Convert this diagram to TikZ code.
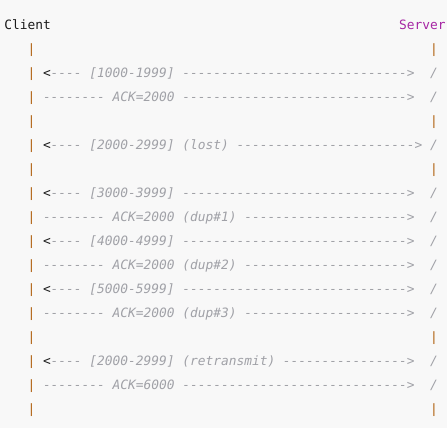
\documentclass[tikz,border=0pt]{standalone}
\usepackage{fontspec}
\setmonofont{DejaVu Sans Mono}
\usepackage{tikz}

\definecolor{codebg}{HTML}{F8F8F8}
\definecolor{codetxt}{HTML}{1A1A1A}
\definecolor{codekw}{HTML}{A626A4}
\definecolor{codebar}{HTML}{B0600E}
\definecolor{codecmt}{HTML}{A0A1A7}

\begin{document}
\frenchspacing
\begin{tikzpicture}[x=7.74pt,y=-24pt,
  txt/.style={anchor=base west,inner sep=0pt,outer sep=0pt,text=codetxt,
    font=\ttfamily\fontsize{12.86}{15}\selectfont},
  kw/.style={txt,text=codekw},
  bar/.style={txt,text=codebar},
  cmt/.style={txt,text=codecmt,font=\ttfamily\itshape\fontsize{12.86}{15}\selectfont}]

%background of the code block, fixes the margins
\useasboundingbox[fill=codebg] (-4.3pt,29.5pt) rectangle (442.7pt,-398.5pt);

% Header line
\node[txt] (client) at (0,0) {Client};
\node[kw] (server) at (51,0) {Server};

% Empty life line rows
\node[bar] (cl1) at (3,1) {|};
\node[bar] (sv1) at (55,1) {|};
\node[bar] (cl4) at (3,4) {|};
\node[bar] (sv4) at (55,4) {|};
\node[bar] (cl6) at (3,6) {|};
\node[bar] (sv6) at (55,6) {|};
\node[bar] (cl13) at (3,13) {|};
\node[bar] (sv13) at (55,13) {|};
\node[bar] (cl16) at (3,16) {|};
\node[bar] (sv16) at (55,16) {|};

% First segment and its ack
\node[bar] (cl2) at (3,2) {|};
\node[txt] (lt2) at (5,2) {<};
\node[cmt] (msg2) at (6,2) {---- [1000-1999] ----------------------------->};
\node[cmt] (sl2) at (55,2) {/};
\node[bar] (cl3) at (3,3) {|};
\node[cmt] (msg3) at (5,3) {-------- ACK=2000 ----------------------------->};
\node[cmt] (sl3) at (55,3) {/};

% Lost segment
\node[bar] (cl5) at (3,5) {|};
\node[txt] (lt5) at (5,5) {<};
\node[cmt] (msg5) at (6,5) {---- [2000-2999] (lost) ----------------------->};
\node[cmt] (sl5) at (55,5) {/};

% Later segments and duplicate acks
\node[bar] (cl7) at (3,7) {|};
\node[txt] (lt7) at (5,7) {<};
\node[cmt] (msg7) at (6,7) {---- [3000-3999] ----------------------------->};
\node[cmt] (sl7) at (55,7) {/};
\node[bar] (cl8) at (3,8) {|};
\node[cmt] (msg8) at (5,8) {-------- ACK=2000 (dup\#1) --------------------->};
\node[cmt] (sl8) at (55,8) {/};
\node[bar] (cl9) at (3,9) {|};
\node[txt] (lt9) at (5,9) {<};
\node[cmt] (msg9) at (6,9) {---- [4000-4999] ----------------------------->};
\node[cmt] (sl9) at (55,9) {/};
\node[bar] (cl10) at (3,10) {|};
\node[cmt] (msg10) at (5,10) {-------- ACK=2000 (dup\#2) --------------------->};
\node[cmt] (sl10) at (55,10) {/};
\node[bar] (cl11) at (3,11) {|};
\node[txt] (lt11) at (5,11) {<};
\node[cmt] (msg11) at (6,11) {---- [5000-5999] ----------------------------->};
\node[cmt] (sl11) at (55,11) {/};
\node[bar] (cl12) at (3,12) {|};
\node[cmt] (msg12) at (5,12) {-------- ACK=2000 (dup\#3) --------------------->};
\node[cmt] (sl12) at (55,12) {/};

% Retransmission
\node[bar] (cl14) at (3,14) {|};
\node[txt] (lt14) at (5,14) {<};
\node[cmt] (msg14) at (6,14) {---- [2000-2999] (retransmit) ---------------->};
\node[cmt] (sl14) at (55,14) {/};
\node[bar] (cl15) at (3,15) {|};
\node[cmt] (msg15) at (5,15) {-------- ACK=6000 ----------------------------->};
\node[cmt] (sl15) at (55,15) {/};

\end{tikzpicture}
\end{document}
